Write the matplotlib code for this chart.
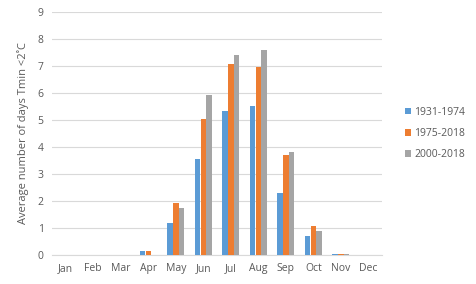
import numpy as np
import matplotlib
matplotlib.use("Agg")
import matplotlib.pyplot as plt

months = ["Jan", "Feb", "Mar", "Apr", "May", "Jun", "Jul", "Aug", "Sep", "Oct", "Nov", "Dec"]
series_names = ["1931-1974", "1975-2018", "2000-2018"]
p1931 = [0, 0, 0, 0.15, 1.2, 3.56, 5.33, 5.52, 2.31, 0.70, 0.05, 0]
p1975 = [0, 0, 0, 0.15, 1.94, 5.04, 7.07, 6.97, 3.70, 1.07, 0.05, 0]
p2000 = [0, 0, 0, 0, 1.74, 5.93, 7.41, 7.59, 3.81, 0.90, 0.03, 0]
colors = ["#5B9BD5", "#ED7D31", "#A5A5A5"]

plt.rcParams['font.family'] = ['Open Sans', 'DejaVu Sans']

fig = plt.figure(figsize=(4.77, 2.84), dpi=100)
ax = fig.add_axes([0.109, 0.102, 0.692, 0.856])

x = np.arange(len(months))
w = 0.2
for i, (vals, name) in enumerate(zip([p1931, p1975, p2000], series_names)):
    ax.bar(x + (i - 1) * 0.215, vals, width=w, color=colors[i], label=name, zorder=3)

ax.set_xlim(-0.5, 11.5)
ax.set_ylim(0, 9)
ax.set_yticks(range(10))
ax.set_xticks(x)
ax.set_xticklabels(months)
ax.grid(axis='y', color='#D9D9D9', linewidth=0.8, zorder=0)
for s in ['top', 'right', 'left']:
    ax.spines[s].set_visible(False)
ax.spines['bottom'].set_color('#D9D9D9')
ax.tick_params(length=0, labelsize=7.5, colors='#595959', pad=6)
ax.set_ylabel("Average number of days Tmin <2˚C", fontsize=8, color='#595959', labelpad=6)

ax.legend(loc='center left', bbox_to_anchor=(1.04, 0.5), frameon=False, fontsize=7.5,
          labelcolor='#595959', handlelength=0.6, handleheight=0.6, handletextpad=0.3,
          labelspacing=1.0)

fig.savefig("out.png", dpi=100)
